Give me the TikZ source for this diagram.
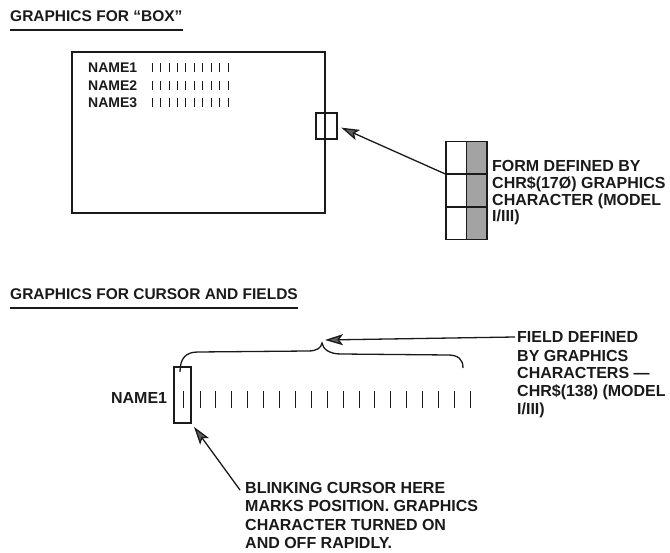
\documentclass[tikz,border=0pt]{standalone}
\usepackage{fontspec}
\setmainfont{Liberation Sans}
\usetikzlibrary{positioning,arrows.meta,calc}
\definecolor{ink}      {HTML}{1A1A1A}
\definecolor{stipple}  {HTML}{A3A3A3}
\definecolor{headfill} {HTML}{5E5E5E}
\tikzset{
  % --- nodes
  title/.style = {font=\fontsize{15.5}{18}\selectfont\bfseries, text=ink,
                  inner sep=0pt, anchor=base west},
  lbl/.style   = {font=\fontsize{14}{17}\selectfont\bfseries, text=ink, inner sep=0pt},
  note/.style  = {font=\fontsize{16}{18}\selectfont\bfseries, text=ink, inner sep=0pt,
                  align=left, anchor=base west},
  cell/.style  = {draw=ink, line width=1.3pt, inner sep=0pt},
  fcell/.style = {cell, minimum width=41pt, minimum height=31.7pt,
                  path picture={\fill[stipple] (path picture bounding box.north)
                    rectangle (path picture bounding box.south east);
                    \draw[ink, line width=1.1pt] (path picture bounding box.north)
                    -- (path picture bounding box.south);}},
  % --- edges
  e/.style     = {draw=ink, line width=1.3pt},
  ptr/.style   = {e, -{Stealth[length=18pt,width=11pt,inset=4pt,fill=headfill]}},
  tick/.style  = {draw=ink, line width=1pt},
}
\begin{document}
\begin{tikzpicture}[x=1pt, y=-1pt]
  \useasboundingbox (0,0) rectangle (670,553);

  % box graphics
  \node[title] (t1) at (10,22) {GRAPHICS FOR “BOX”};
  \draw[e] ([yshift=-8pt]t1.base west) -- ([yshift=-8pt]t1.base east);

  \draw[e] (72,52) rectangle (325,213);
  \foreach \r/\yy in {1/68,2/86,3/103} {
    \node[lbl, anchor=west] (n\r) at (88,\yy) {NAME\r};
    \foreach \i in {0,...,9}
      \draw[tick, line width=0.6pt] ({152+8.44*\i},\yy-4.5) -- ++(0,9);
  }
  \node[cell, minimum width=21pt, minimum height=26pt] (slot) at (326.5,126) {};

  \node[fcell] (r1) at (466.5,157.5) {};
  \node[fcell, below=0pt of r1] (r2) {};
  \node[fcell, below=0pt of r2] (r3) {};
  % base = last line
  \node[note, font=\fontsize{16}{16.7}\selectfont\bfseries] (formtxt) at (492,222)
    {FORM DEFINED BY\\CHR\$(17Ø) GRAPHICS\\CHARACTER (MODEL\\I/III)};
  \draw[ptr, shorten >=4pt] (r1.south west) -- (slot.east);

  % cursor and fields
  \node[title] (t2) at (10,300) {GRAPHICS FOR CURSOR AND FIELDS};
  \draw[e] ([yshift=-8pt]t2.base west) -- ([yshift=-8pt]t2.base east);

  \node[cell, minimum width=17pt, minimum height=56pt] (cur) at (182.5,395) {};
  \node[note, anchor=east, yshift=-2.5pt, left=6pt of cur] (nm) {NAME1};
  \draw[tick] (183,391) -- (183,408);
  \foreach \i in {0,...,17}
    \draw[tick] ({200+15.9*\i},391) -- ++(0,17);

  \draw[e] (180,372) .. controls (180,358) and (186,352) .. (198,352)
    -- (308,351) .. controls (317,351) and (321,348) .. (322,343)
    .. controls (323,349) and (329,354) .. (341,354)
    -- (448,355) .. controls (458,355) and (463,359) .. (463,368);
  \coordinate (btip) at (325,340);

  \node[note] (fieldtxt) at (517,415)
    {FIELD DEFINED\\BY GRAPHICS\\CHARACTERS ---\\CHR\$(138) (MODEL\\I/III)};
  \coordinate (fstart) at (515,337);
  \draw[ptr] (fstart) -- (btip);

  \node[note, font=\fontsize{16}{18.3}\selectfont\bfseries] (blink) at (245,548.5)
    {BLINKING CURSOR HERE\\MARKS POSITION. GRAPHICS\\CHARACTER TURNED ON\\AND OFF RAPIDLY.};
  \coordinate (bstart) at (240,490);
  \draw[ptr, shorten >=4pt] (bstart) -- (cur.south east);
\end{tikzpicture}
\end{document}
